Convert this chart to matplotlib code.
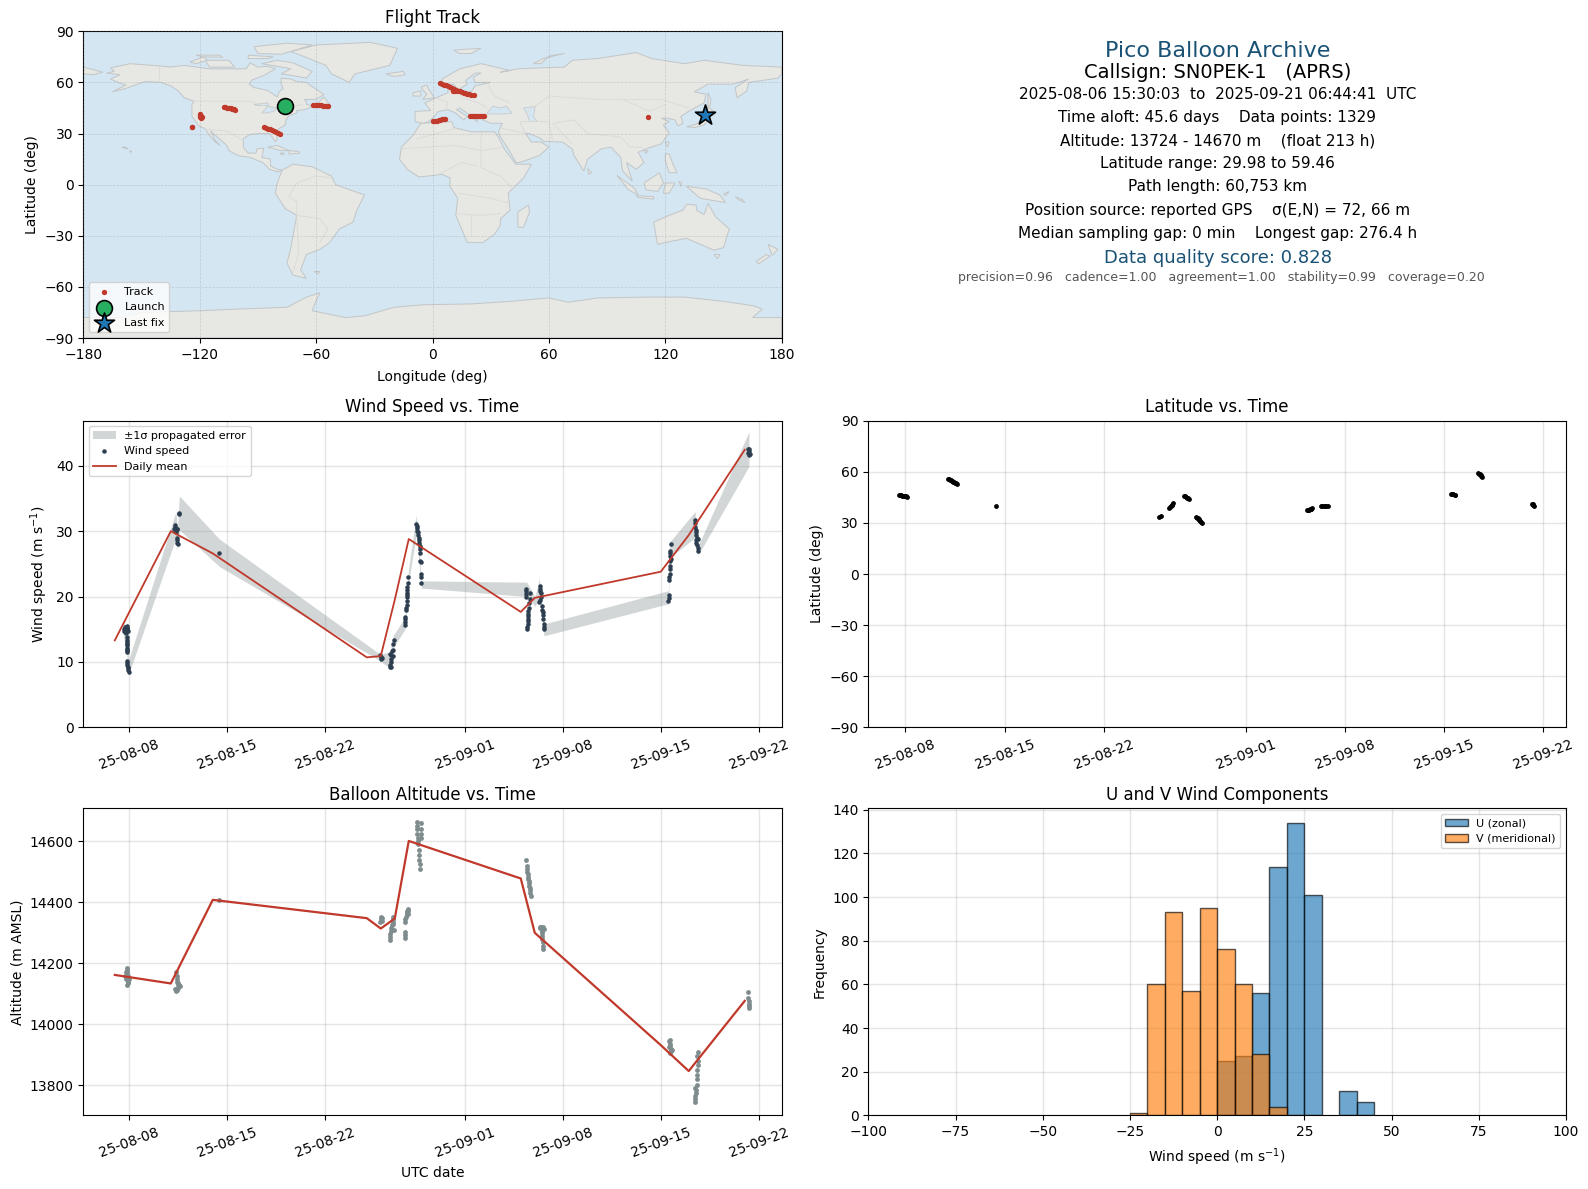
import numpy as np
import matplotlib
matplotlib.use('Agg')
import matplotlib.pyplot as plt
import matplotlib.dates as mdates
from matplotlib.patches import Polygon

# colours
RED = '#c0392b'
NAVY = '#2c3e50'
GREY = '#7f8c8d'
TITLE_BLUE = '#1a5276'

# all series are in days after 2025-08-08 00:00 UTC
START = mdates.datestr2num('2025-08-08')
tick_dates = ['2025-08-08', '2025-08-15', '2025-08-22', '2025-09-01',
              '2025-09-08', '2025-09-15', '2025-09-22']

# daily means
mean_days = [-1.04, 2.96, 5.96, 16.96, 17.96, 18.96, 19.96, 27.96, 28.96, 37.96, 39.96, 43.96]
mean_wind = [13.3, 30.0, 26.6, 10.7, 10.9, 19.5, 28.8, 17.65, 19.8, 23.8, 29.4, 42.45]
mean_alt = [14162, 14134, 14408, 14348, 14314, 14347, 14601, 14478, 14300, 13932, 13847, 14077]

# propagated error band
band_days = [-0.43, -0.19, -0.07, 3.33, 3.43, 3.57, 6.43, 17.9, 18.62, 18.86, 19.69, 19.93,
             20.5, 20.86, 28.39, 28.98, 29.29, 29.62, 38.5, 38.62, 40.41, 40.64, 44.26]
band_lo = [14.0, 11.5, 8.0, 29.0, 27.0, 30.2, 24.6, 10.2, 9.0, 12.2, 15.0, 22.0,
           29.5, 21.3, 20.0, 18.5, 20.0, 14.0, 18.9, 26.0, 29.0, 26.4, 39.9]
band_hi = [16.3, 14.5, 10.2, 33.0, 29.8, 35.4, 28.8, 11.2, 11.5, 14.1, 16.8, 24.0,
           32.5, 22.4, 22.2, 20.0, 22.8, 15.8, 20.9, 28.4, 33.0, 27.8, 45.2]

wind_days = [-0.40, -0.36, -0.32, -0.28, -0.24, -0.20, -0.16, -0.12, -0.30, -0.26, -0.22, -0.18, -0.14,
             -0.2, -0.18, -0.18, -0.17, -0.16, -0.16, -0.16, -0.15, -0.15, -0.2, -0.16, -0.14, -0.12, -0.1, -0.08, -0.06,
             3.27, 3.27, 3.3, 3.33, 3.22, 3.4, 3.43, 3.38, 3.38, 3.4, 3.45, 3.56, 3.54,
             6.43,
             17.92, 17.98, 18.0, 18.02,
             18.6, 18.7, 18.72, 18.7, 18.62, 18.65, 18.72, 18.8, 18.78, 18.85, 18.85, 18.87,
             19.7, 19.7, 19.72, 19.72, 19.78, 19.78, 19.8, 19.8, 19.82, 19.84, 19.84, 19.86, 19.86, 19.88, 19.93,
             20.5, 20.52, 20.55, 20.58, 20.6, 20.62, 20.66, 20.7, 20.72, 20.74, 20.74, 20.76, 20.78, 20.8, 20.8, 20.84, 20.84,
             28.34, 28.34, 28.36, 28.36, 28.62, 28.6, 28.55, 28.52, 28.5, 28.5, 28.5, 28.5, 28.48, 28.46, 28.44, 28.42,
             29.3, 29.32, 29.36, 29.4, 29.4, 29.36, 29.28, 29.45, 29.48, 29.52, 29.52, 29.58, 29.6, 29.6, 29.6,
             38.72, 38.65, 38.65, 38.62, 38.68, 38.65, 38.62, 38.6, 38.6, 38.58, 38.55, 38.55, 38.55, 38.5,
             40.4, 40.4, 40.42, 40.45, 40.48, 40.5, 40.55, 40.45, 40.6, 40.5, 40.55, 40.6, 40.62,
             44.2, 44.24, 44.28, 44.3, 44.22, 44.26]
wind_speed = [14.8, 15.0, 15.2, 15.3, 15.4, 15.2, 15.0, 14.7, 14.6, 14.5, 14.7, 15.5, 15.2,
              13.8, 13.4, 13.0, 12.6, 12.2, 11.9, 11.5, 11.8, 12.8, 10.2, 9.9, 9.6, 9.3, 9.0, 8.8, 8.5,
              31.0, 30.6, 30.2, 29.8, 30.3, 30.3, 30.3, 29.0, 28.6, 28.2, 28.1, 32.8, 32.6,
              26.7,
              11.0, 10.7, 10.4, 10.6,
              11.2, 11.0, 10.5, 10.0, 9.6, 9.3, 9.2, 10.9, 11.6, 11.8, 12.7, 13.4,
              15.7, 16.1, 16.5, 16.9, 17.9, 18.3, 18.7, 19.3, 19.9, 20.2, 20.6, 21.0, 21.4, 22.0, 23.0,
              31.1, 30.8, 30.5, 30.1, 29.8, 29.4, 29.0, 28.6, 28.2, 27.7, 27.2, 26.6, 25.5, 25.3, 23.4, 23.0, 22.0,
              21.2, 20.8, 20.4, 20.0, 20.6, 19.6, 19.0, 18.2, 17.8, 17.4, 17.0, 16.6, 16.2, 15.8, 15.4, 15.0,
              21.6, 21.2, 20.8, 20.5, 20.0, 19.5, 19.1, 18.5, 18.0, 17.6, 17.2, 16.6, 15.8, 15.4, 15.0,
              28.0, 27.0, 26.6, 26.2, 25.8, 25.4, 24.6, 24.2, 23.4, 23.0, 22.6, 20.2, 19.8, 19.3,
              31.7, 31.2, 30.6, 30.2, 29.8, 29.4, 29.0, 28.6, 28.8, 28.2, 27.9, 27.5, 27.0,
              42.5, 42.6, 42.2, 41.8, 41.9, 41.6]

alt_days = [-0.3, -0.25, -0.2, -0.18, -0.22, -0.16, -0.14, -0.12, -0.1, -0.08, -0.2, -0.15, -0.1, -0.05,
            3.35, 3.38, 3.4, 3.42, 3.45, 3.5, 3.55, 3.6, 3.45, 3.38, 3.3, 3.28,
            6.43,
            17.92, 17.95, 18.0, 18.05, 18.08,
            18.62, 18.62, 18.65, 18.68, 18.72, 18.78, 18.82, 18.85, 18.86, 18.86, 18.88,
            19.68, 19.68, 19.7, 19.72, 19.72, 19.75, 19.8, 19.82, 19.85, 19.88, 19.9, 19.92,
            20.52, 20.54, 20.56, 20.58, 20.6, 20.62, 20.64, 20.68, 20.7, 20.72, 20.74, 20.76, 20.8, 20.8, 20.82, 20.86,
            28.36, 28.38, 28.4, 28.42, 28.45, 28.48, 28.5, 28.52, 28.55, 28.58, 28.6, 28.62, 28.64, 28.66,
            29.3, 29.35, 29.4, 29.45, 29.5, 29.55, 29.6, 29.5, 29.45, 29.5, 29.52, 29.58, 29.58,
            38.55, 38.6, 38.62, 38.65, 38.68, 38.72, 38.76, 38.65, 38.58,
            40.6, 40.58, 40.6, 40.62, 40.58, 40.55, 40.52, 40.52, 40.5, 40.45, 40.43, 40.43, 40.42, 40.42,
            44.2, 44.22, 44.25, 44.25, 44.28, 44.28]
alt_m = [14160, 14170, 14185, 14178, 14150, 14165, 14155, 14148, 14140, 14135, 14130, 14172, 14160, 14150,
         14172, 14160, 14150, 14140, 14130, 14135, 14128, 14125, 14118, 14112, 14108, 14115,
         14407,
         14335, 14345, 14353, 14340, 14350,
         14276, 14286, 14296, 14305, 14315, 14325, 14335, 14345, 14352, 14330, 14310,
         14282, 14292, 14302, 14335, 14345, 14352, 14360, 14366, 14372, 14377, 14370, 14362,
         14662, 14650, 14640, 14625, 14610, 14600, 14590, 14570, 14555, 14540, 14525, 14510, 14660, 14640, 14625, 14610,
         14539, 14520, 14510, 14500, 14492, 14484, 14476, 14470, 14462, 14455, 14448, 14440, 14430, 14422,
         14320, 14315, 14318, 14312, 14305, 14318, 14312, 14300, 14290, 14280, 14270, 14258, 14246,
         13945, 13950, 13935, 13928, 13920, 13912, 13915, 13905, 13925,
         13910, 13895, 13880, 13868, 13850, 13835, 13820, 13800, 13785, 13775, 13765, 13755, 13790, 13746,
         14107, 14088, 14078, 14068, 14060, 14052]

lat_days = [-0.43, -0.36, -0.3, -0.24, -0.18, -0.12, -0.06, 0.0, 0.08, 0.14,
            3.0, 3.08, 3.14, 3.2, 3.26, 3.32, 3.38, 3.44, 3.5, 3.56, 3.62,
            6.43,
            17.9, 18.0,
            18.6, 18.66, 18.72, 18.78, 18.84, 18.9,
            19.68, 19.74, 19.8, 19.86, 19.92, 20.0,
            20.5, 20.56, 20.62, 20.68, 20.74, 20.8, 20.86, 20.9,
            28.34, 28.4, 28.46, 28.52, 28.58, 28.64, 28.7,
            29.3, 29.4, 29.5, 29.6, 29.7, 29.8,
            38.5, 38.58, 38.66, 38.74, 38.8,
            40.4, 40.46, 40.52, 40.58, 40.64, 40.7,
            44.2, 44.26, 44.3, 44.34]
lat_deg = [46.3, 46.2, 46.1, 46.0, 45.9, 45.8, 45.7, 45.6, 45.5, 45.4,
           56.0, 55.7, 55.4, 55.1, 54.8, 54.5, 54.2, 53.9, 53.6, 53.2, 52.7,
           39.9,
           33.6, 33.9,
           38.8, 39.3, 39.8, 40.3, 40.8, 41.4,
           45.6, 45.5, 45.2, 44.9, 44.6, 44.2,
           33.6, 33.1, 32.6, 32.1, 31.6, 31.1, 30.6, 30.2,
           37.4, 37.6, 37.7, 37.9, 38.1, 38.3, 38.6,
           39.8, 39.9, 40.0, 40.0, 39.9, 39.8,
           47.0, 46.9, 46.8, 46.6, 46.5,
           59.4, 59.0, 58.5, 58.0, 57.4, 56.8,
           41.2, 40.9, 40.6, 40.2]

# histogram
hist_edges = list(range(-100, 105, 5))
u_left = [0, 5, 10, 15, 20, 25, 35, 40]
u_count = [25, 27, 56, 114, 134, 101, 11, 6]
v_left = [-25, -20, -15, -10, -5, 0, 5, 10, 15]
v_count = [1, 60, 93, 57, 95, 76, 60, 28, 4]

# track on the map
track_lon = [-61.5, -60.5, -59.5, -58.5, -57.5, -56.5, -55.5, -54.5, -53.8,
             -107.7, -106.8, -105.9, -105, -104.1, -103.2, -102.4, -101.7,
             -120, -119.6, -119.2, -118.9, -119.4, -119.8,
             -124.1, -123.8,
             -86.8, -85.8, -84.8, -83.8, -82.8, -81.8, -80.8, -79.8, -78.6,
             0.5, 1.4, 2.3, 3.2, 4.1, 5, 5.9, 6.5,
             4, 5, 6, 7, 8, 9, 10, 11, 12, 13, 14, 15, 16, 17, 18, 19, 20, 21.2, 10.5, 11.5,
             19.5, 20.5, 21.5, 22.5, 23.5, 24.5, 25.5, 26.4,
             110.9, 139.6, 140.7]
track_lat = [46.9, 46.8, 46.7, 46.6, 46.5, 46.4, 46.3, 46.1, 46.0,
             45.6, 45.5, 45.2, 45.0, 44.8, 44.6, 44.3, 44.0,
             41.5, 41.0, 40.4, 39.8, 39.3, 39.6,
             33.9, 33.8,
             33.9, 33.4, 32.9, 32.4, 31.9, 31.4, 31.0, 30.5, 29.9,
             37.2, 37.4, 37.6, 37.9, 38.1, 38.3, 38.6, 38.8,
             59.6, 59.1, 58.7, 58.3, 57.8, 57.2, 56.6, 56.0, 55.6, 55.2, 54.9, 54.5, 53.9, 53.7, 53.4, 53.1, 52.8, 52.5, 55.0, 54.7,
             40.0, 40.1, 40.3, 40.3, 40.3, 40.3, 40.4, 40.4,
             39.8, 40.6, 41.1]
launch_lon, launch_lat = -75.9, 46.0
last_lon, last_lat = 140.7, 41.1

# coarse coastlines, lon/lat
land = [
    [(-168, 65.5), (-164, 66.5), (-166, 68.5), (-156, 71), (-141, 69.7), (-135, 69), (-128, 70), (-115, 68), (-108, 68),
     (-96, 68), (-94, 71.5), (-90, 69), (-85, 69.5), (-81, 68), (-87, 64), (-93, 61.5), (-94.5, 59), (-92, 57), (-85, 55.3),
     (-82, 53), (-80, 51.5), (-79, 54.5), (-77, 56.5), (-78, 59), (-78, 62.5), (-73, 62), (-70, 60.5), (-65, 60), (-62, 57.5),
     (-56, 53), (-60, 50), (-66, 50), (-65, 48.5), (-65, 47), (-61, 46), (-66, 44), (-70, 43.5), (-70, 42), (-74, 40.5),
     (-75.5, 38), (-76, 35), (-81, 31.5), (-80, 27), (-81, 25.2), (-82.7, 28), (-84, 30), (-89, 30), (-94, 29.5), (-97.5, 27),
     (-97.5, 22), (-95, 18.5), (-91, 18.5), (-90.5, 21), (-87, 21.5), (-88, 16), (-83.5, 15), (-83.5, 11), (-80, 9),
     (-77.5, 8.5), (-80, 7.5), (-84, 9), (-87.5, 13), (-94, 16), (-100, 17), (-105, 20), (-106, 23), (-112, 29), (-114.5, 31.5),
     (-112, 26), (-109.5, 23), (-112, 25), (-115, 29), (-117.5, 33), (-120.5, 34.5), (-124, 40), (-124, 47), (-123, 49),
     (-128, 51), (-131, 55), (-135, 58), (-140, 60), (-148, 60.5), (-152, 59), (-158, 56.5), (-165, 54.5), (-158, 58.5),
     (-162, 60), (-166, 62), (-161, 64.5)],
    [(-80, 73), (-72, 71.5), (-62, 66.5), (-65, 62.5), (-72, 64), (-78, 65), (-73, 68), (-88, 71)],
    [(-117, 73), (-105, 73), (-102, 69), (-115, 69)],
    [(-90, 77), (-78, 76.5), (-62, 82), (-75, 83), (-92, 81)],
    [(-125, 72), (-118, 75), (-116, 73), (-122, 71)],
    [(-95, 76), (-82, 75), (-85, 74), (-95, 74)],
    [(-122, 76), (-110, 76), (-108, 74.8), (-118, 75)],
    [(-59, 48), (-56, 51.5), (-53, 47), (-59, 47.5)],
    [(-85, 22), (-80, 23), (-74, 20), (-78, 20)],
    [(-74, 20), (-69, 19.5), (-68.5, 18.5), (-74, 18)],
    [(-78.5, 18.5), (-76.5, 18.5), (-76.5, 17.8), (-78.5, 17.9)],
    [(-156, 20), (-155, 19.5), (-155.5, 19), (-156, 19.2)],
    [(-160, 22.2), (-158, 21.8), (-157, 21), (-159, 21.5)],
    [(-73, 78), (-60, 82), (-32, 83.5), (-18, 80), (-22, 70), (-40, 65), (-43, 60), (-52, 65), (-55, 70), (-68, 76)],
    [(-77.5, 8.5), (-72, 12), (-62, 10.5), (-52, 5), (-50, 0), (-44, -2.5), (-35, -6), (-39, -15), (-41, -22), (-48, -26),
     (-53, -34), (-58, -38), (-65, -41), (-68, -50), (-65, -55), (-72, -53), (-75, -46), (-73, -37), (-70, -18), (-76, -14),
     (-81, -5), (-80, 1)],
    [(-61, -51), (-58, -51), (-59, -52.3)],
    [(-6, 36), (10, 37), (11, 33.5), (20, 31), (32, 31), (34, 28), (37, 21), (43, 12), (51, 12), (47, 4), (39, -5), (40, -15),
     (35, -20), (35, -24), (32, -29), (26, -34), (18, -34), (12, -18), (13, -8), (9, -1), (9, 4), (5, 6), (-7, 4.5), (-13, 9),
     (-17, 15), (-16, 22), (-10, 29)],
    [(-9, 37), (-9, 43), (-1, 43.5), (-4, 48), (2, 51), (8, 54), (8, 57), (11, 54), (20, 54.5), (22, 58), (30, 60), (22, 60),
     (21, 63), (25, 65.5), (22, 65.5), (17, 61), (18, 59), (13, 55.5), (11, 59), (5, 59), (5, 62), (14, 68), (25, 71), (40, 67),
     (35, 66), (44, 68), (54, 68.5), (68, 69), (72, 73), (85, 74), (105, 77.5), (113, 74), (130, 71), (140, 73), (160, 70),
     (180, 69), (180, 65), (178, 62.5), (163, 60), (162, 55), (157, 51), (156, 57), (163, 62), (155, 59), (142, 59), (135, 54.5),
     (141, 53), (140, 48), (132, 43), (128, 40), (129, 36), (126.5, 34.5), (125, 38), (121, 39), (118, 39), (122, 37), (119, 35),
     (122, 30.5), (118, 24), (110, 21), (106, 19), (109, 13), (105, 9), (100, 13), (103, 2), (98, 8), (97, 16), (92, 22), (87, 21),
     (80, 15), (78, 8), (73, 17), (72, 21), (67, 25), (57, 25.5), (56, 27), (50, 30), (48, 30), (51, 25), (56, 25), (60, 22),
     (55, 17), (45, 13), (43, 13), (39, 21), (35, 28), (34, 31), (36, 36), (30, 36), (26, 38), (27, 41), (23, 40.5), (23, 37),
     (19, 41), (14, 45), (12.5, 44), (18, 40), (16, 38), (12, 42), (8, 44), (3, 43), (0, 39), (-2, 37), (-5, 36)],
    [(-180, 69), (-170, 66), (-175, 64.5), (-180, 65)],
    [(-5, 50), (1, 51), (-2, 56), (-3, 58.5), (-6, 57), (-3, 53)],
    [(-10, 52), (-6, 52), (-6, 55), (-10, 54)],
    [(-24, 65), (-15, 66.5), (-14, 64.5), (-20, 63.5)],
    [(11, 79), (25, 80), (20, 77), (14, 77)],
    [(52, 71), (57, 74), (68, 77), (60, 75.5), (56, 71)],
    [(131, 34), (136, 35.5), (141, 41), (142, 38), (140, 35), (135, 33.5)],
    [(140, 42), (142, 45.5), (145, 43), (141, 41.5)],
    [(142, 46), (142, 54), (143.5, 50), (143, 46)],
    [(120, 25), (122, 25), (121, 22)],
    [(109, 20), (111, 20), (110, 18.3)],
    [(80, 9.5), (82, 7), (80.5, 6)],
    [(44, -16), (49.5, -12), (50, -16), (47, -25), (44, -25)],
    [(120, 18), (122, 18), (124, 12), (126, 7), (122, 7), (120, 14)],
    [(109, 1), (117, 7), (119, 1), (116, -4), (110, -3)],
    [(95, 5.5), (104, -2), (106, -6), (101, -3)],
    [(105, -6.5), (114, -7), (114, -8.5), (106, -7.5)],
    [(119, -5), (120, 1), (125, 1), (122, -5)],
    [(127, 2), (128.5, 1), (128, -1)],
    [(131, -1), (141, -2.5), (148, -6), (151, -10.5), (143, -9), (138, -8), (133, -3)],
    [(150, -5.5), (153, -4), (151, -6.5)],
    [(156, -7), (160, -9), (161, -10.5), (158, -9)],
    [(114, -22), (122, -18), (129, -15), (131, -11.5), (136, -12), (136, -15), (140, -17.5), (142, -11), (146, -19), (153, -26),
     (150, -37), (145, -38.5), (138, -35), (131, -31.5), (124, -33), (116, -35)],
    [(145, -41), (148, -41), (147, -43.5)],
    [(173, -35), (178, -38), (175, -41.5)],
    [(172, -41), (174, -42), (168, -46.5), (167, -45)],
    [(-180, -78), (-160, -78), (-150, -75), (-120, -74), (-100, -73), (-75, -72), (-65, -66), (-58, -63.5), (-60, -68), (-62, -74),
     (-45, -78), (-35, -77), (-20, -72), (-5, -70.5), (20, -70), (40, -68.5), (60, -66.5), (70, -69), (85, -66.5), (110, -66),
     (130, -66), (150, -68.5), (165, -71), (170, -73), (165, -78), (180, -78), (180, -90), (-180, -90)],
]
inland_water = [
    [(28, 41.5), (31, 46), (35, 45), (38, 46), (41, 42), (36, 41.5)],
    [(47, 45), (53, 46), (52, 40), (54, 37), (50, 37), (49, 41)],
    [(-92, 47), (-85, 48), (-84.5, 46.5), (-90, 46.5)],
    [(-88, 42), (-85, 46), (-80, 45), (-82, 43), (-86, 42)],
]
borders = [
    [(-141, 69.7), (-141, 60)], [(-123, 49), (-95, 49), (-83, 45), (-75, 45), (-67, 47)],
    [(-117, 32.5), (-106, 31.5), (-97.5, 26)], [(-70, -18), (-58, -20), (-54, -26), (-58, -34)],
    [(-70, -18), (-70, -10), (-74, -7), (-70, 1), (-60, 5), (-52, 4)], [(-70, -18), (-69, -40), (-72, -52)],
    [(-17, 21), (12, 23), (25, 20), (37, 22)], [(25, 32), (25, 10), (35, 5), (41, -2)], [(-8, 27), (12, 33)], [(3, 6), (15, 13), (23, 11)],
    [(13, -5), (30, -8), (40, -11)], [(12, -17), (25, -18), (35, -17)], [(20, -18), (20, -29)],
    [(28, 60), (32, 52), (40, 48)], [(48, 42), (60, 52), (85, 50), (98, 50), (118, 50), (132, 45)],
    [(73, 38), (80, 30), (97, 28), (102, 22), (108, 22)], [(48, 30), (45, 37), (60, 37), (62, 25)], [(73, 38), (62, 36), (72, 24)],
    [(98, 50), (112, 43), (120, 47)], [(36, 33), (48, 30)], [(14, 54), (15, 51), (24, 48), (28, 45)], [(2, 51), (8, 48), (7, 44)],
]


def add_axes(fig, left, top, right, bottom):
    # pixel box of the axes, y counted from the top of the picture
    W, H = 1588.0, 1189.0
    return fig.add_axes([left / W, 1 - bottom / H, (right - left) / W, (bottom - top) / H])


def date_axis(ax, xmin, xmax):
    ax.set_xticks(mdates.datestr2num(tick_dates))
    ax.xaxis.set_major_formatter(mdates.DateFormatter('%y-%m-%d'))
    ax.tick_params(axis='x', rotation=20)
    ax.set_xlim(START + xmin, START + xmax)
    ax.grid(True, color='#999999', alpha=0.25, linewidth=1)
    ax.set_axisbelow(True)


fig = plt.figure(figsize=(15.88, 11.89), dpi=100)

# flight track map
ax = add_axes(fig, 83.3, 31.3, 781.7, 338)
ax.set_facecolor('#d4e6f1')
for poly in land:
    ax.add_patch(Polygon(poly, closed=True, facecolor='#e7e7e3', edgecolor='#c2c6c8', linewidth=0.7, zorder=1))
for poly in inland_water:
    ax.add_patch(Polygon(poly, closed=True, facecolor='#d4e6f1', edgecolor='#c2c6c8', linewidth=0.5, zorder=1.1))
for line in borders:
    xs, ys = zip(*line)
    ax.plot(xs, ys, color='#d9d9d5', linewidth=0.6, zorder=1.2)
ax.grid(True, color='#888888', alpha=0.3, linewidth=0.5, linestyle='--')
ax.set_axisbelow(False)
ax.scatter(track_lon, track_lat, s=8, color=RED, label='Track', zorder=3)
ax.scatter([launch_lon], [launch_lat], s=130, color='#27ae60', edgecolor='k', linewidth=1.2, label='Launch', zorder=4)
ax.scatter([last_lon], [last_lat], s=230, marker='*', color='#1f77b4', edgecolor='k', linewidth=1.2, label='Last fix', zorder=4)
ax.set_xlim(-180, 180)
ax.set_ylim(-90, 90)
ax.set_xticks(range(-180, 181, 60))
ax.set_yticks(range(-90, 91, 30))
ax.xaxis.set_major_formatter(plt.FuncFormatter(lambda v, p: '\u2212%d' % -v if v < 0 else '%d' % v))
ax.set_xlabel('Longitude (deg)', labelpad=6)
ax.set_ylabel('Latitude (deg)')
ax.set_title('Flight Track')
ax.legend(loc='lower left', fontsize=8)

# text panel
ax = add_axes(fig, 868.3, 31.3, 1566, 338)
ax.axis('off')
cx = 1217.5
rows = [
    (50.7, 'Pico Balloon Archive', 16, TITLE_BLUE, 0),
    (73, 'Callsign: SN0PEK-1   (APRS)', 14, 'k', 0),
    (94.4, '2025-08-06 15:30:03  to  2025-09-21 06:44:41  UTC', 11, 'k', 0),
    (117.7, 'Time aloft: 45.6 days    Data points: 1329', 11, 'k', 0),
    (141, 'Altitude: 13724 - 14670 m    (float 213 h)', 11, 'k', 0),
    (163.4, 'Latitude range: 29.98 to 59.46', 11, 'k', 0),
    (186.7, 'Path length: 60,753 km', 11, 'k', 0),
    (210, 'Position source: reported GPS    \u03c3(E,N) = 72, 66 m', 11, 'k', 0),
    (233.4, 'Median sampling gap: 0 min    Longest gap: 276.4 h', 11, 'k', 0),
    (257.7, 'Data quality score: 0.828', 13, TITLE_BLUE, 0),
    (278, 'precision=0.96   cadence=1.00   agreement=1.00   stability=0.99   coverage=0.20', 9, '#555555', 4),
]
for y, txt, size, col, shift in rows:
    fig.text((cx + shift) / 1588, 1 - y / 1189, txt, fontsize=size, color=col, ha='center', va='center')

# wind speed
ax = add_axes(fig, 83.3, 420.7, 781.7, 727.3)
ax.fill_between(START + np.array(band_days), band_lo, band_hi, color=GREY, alpha=0.35, linewidth=0, label='\u00b11\u03c3 propagated error')
ax.scatter(START + np.array(wind_days), wind_speed, s=5, color=NAVY, label='Wind speed', zorder=3)
ax.plot(START + np.array(mean_days), mean_wind, color=RED, linewidth=1.3, label='Daily mean', zorder=4)
date_axis(ax, -3.29, 46.6)
ax.set_ylim(0, 46.9)
ax.set_ylabel('Wind speed (m s$^{-1}$)')
ax.set_title('Wind Speed vs. Time')
ax.legend(loc='upper left', fontsize=8)

# latitude
ax = add_axes(fig, 868.3, 420.7, 1566, 727.3)
ax.scatter(START + np.array(lat_days), lat_deg, s=6, color='k', zorder=3)
date_axis(ax, -2.61, 46.6)
ax.set_ylim(-90, 90)
ax.set_yticks(range(-90, 91, 30))
ax.set_ylabel('Latitude (deg)')
ax.set_title('Latitude vs. Time')

# altitude
ax = add_axes(fig, 83.3, 808.3, 781.7, 1115.3)
ax.scatter(START + np.array(alt_days), alt_m, s=6, color=GREY, zorder=3)
ax.plot(START + np.array(mean_days), mean_alt, color=RED, linewidth=1.6, zorder=4)
date_axis(ax, -3.29, 46.6)
ax.set_ylim(13702, 14708)
ax.set_yticks(range(13800, 14601, 200))
ax.set_xlabel('UTC date', labelpad=5)
ax.set_ylabel('Altitude (m AMSL)')
ax.set_title('Balloon Altitude vs. Time')

# U and V histogram
ax = add_axes(fig, 868.3, 808.3, 1566, 1115.3)
ax.bar(u_left, u_count, width=5, align='edge', color='#1f77b4', edgecolor='k', alpha=0.65, label='U (zonal)', zorder=2)
ax.bar(v_left, v_count, width=5, align='edge', color='#ff7f0e', edgecolor='k', alpha=0.65, label='V (meridional)', zorder=3)
ax.set_xlim(hist_edges[0], hist_edges[-1])
ax.set_ylim(0, 140.7)
ax.grid(True, color='#999999', alpha=0.25, linewidth=1)
ax.set_axisbelow(True)
ax.set_xlabel('Wind speed (m s$^{-1}$)', labelpad=5)
ax.set_ylabel('Frequency')
ax.set_title('U and V Wind Components')
ax.legend(loc='upper right', fontsize=8)

fig.savefig('out.png', dpi=100)
